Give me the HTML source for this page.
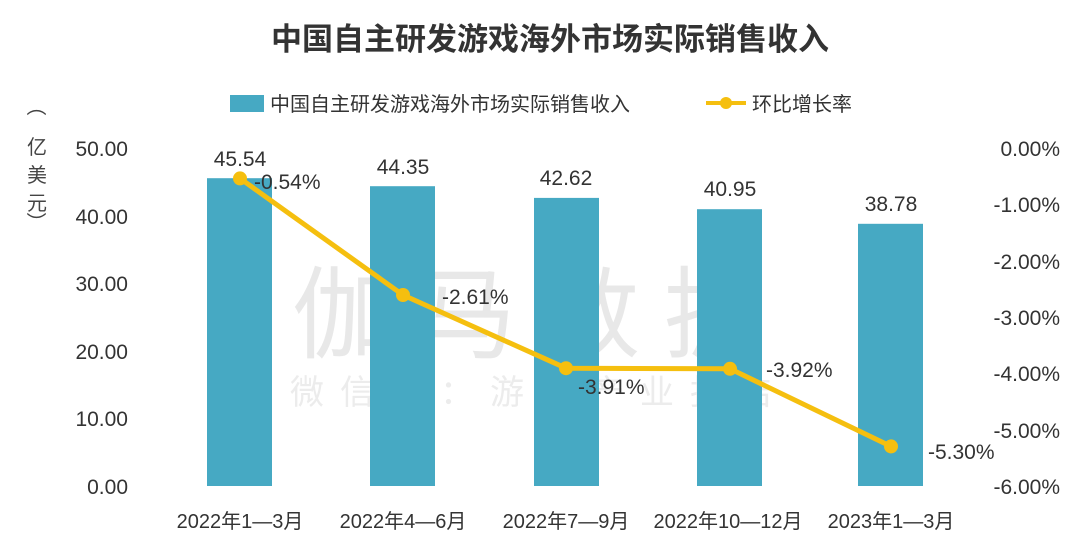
<!DOCTYPE html>
<html><head><meta charset="utf-8"><style>
body{margin:0;background:#fff;}
svg text{font-family:"Liberation Sans","Noto Sans CJK SC",sans-serif;}
</style></head><body>
<svg width="1080" height="552" viewBox="0 0 1080 552" xmlns="http://www.w3.org/2000/svg">
<rect width="1080" height="552" fill="#fff"/>
<text x="550" y="50" text-anchor="middle" font-size="31" font-weight="bold" fill="#333">中国自主研发游戏海外市场实际销售收入</text>
<!-- watermark -->
<text x="540" y="350" text-anchor="middle" font-size="100" fill="#e8e8e8" letter-spacing="24">伽马数据</text>
<text x="540" y="404" text-anchor="middle" font-size="34" fill="#ececec" letter-spacing="16">微信号：游戏产业报告</text>
<!-- legend -->
<rect x="230" y="95" width="34" height="17" fill="#46a9c3"/>
<text x="270" y="111" font-size="20" fill="#333">中国自主研发游戏海外市场实际销售收入</text>
<line x1="706" y1="103" x2="746" y2="103" stroke="#f5bf0f" stroke-width="4"/>
<circle cx="726" cy="103" r="6" fill="#f5bf0f"/>
<text x="752" y="111" font-size="20" fill="#333">环比增长率</text>
<!-- left unit -->
<g font-size="20" fill="#444" text-anchor="middle">
<text x="35" y="112" transform="rotate(90 35 106)">（</text>
<text x="37" y="154">亿</text>
<text x="37" y="182">美</text>
<text x="37" y="210">元</text>
<text x="35" y="228" transform="rotate(90 35 222)">）</text>
</g>
<!-- left ticks -->
<g font-size="21" fill="#333" text-anchor="end">
<text x="128" y="156">50.00</text>
<text x="128" y="224">40.00</text>
<text x="128" y="291">30.00</text>
<text x="128" y="359">20.00</text>
<text x="128" y="426">10.00</text>
<text x="128" y="494">0.00</text>
</g>
<g font-size="21" fill="#333" text-anchor="end">
<text x="1060" y="156">0.00%</text>
<text x="1060" y="212">-1.00%</text>
<text x="1060" y="269">-2.00%</text>
<text x="1060" y="325">-3.00%</text>
<text x="1060" y="381">-4.00%</text>
<text x="1060" y="438">-5.00%</text>
<text x="1060" y="494">-6.00%</text>
</g>
<!-- bars -->
<g fill="#46a9c3">
<rect x="207" y="178.2" width="65" height="307.8"/>
<rect x="370" y="186.2" width="65" height="299.8"/>
<rect x="534" y="197.9" width="65" height="288.1"/>
<rect x="697" y="209.2" width="65" height="276.8"/>
<rect x="858" y="223.8" width="65" height="262.2"/>
</g>
<g font-size="21" fill="#333" text-anchor="middle">
<text x="240" y="166">45.54</text>
<text x="403" y="174">44.35</text>
<text x="566" y="185">42.62</text>
<text x="730" y="196">40.95</text>
<text x="891" y="211">38.78</text>
</g>
<!-- line -->
<polyline points="240,178.4 403,295 566,368.2 730,368.8 891,446.4" fill="none" stroke="#f5bf0f" stroke-width="5" stroke-linejoin="round"/>
<g fill="#f5bf0f">
<circle cx="240" cy="178.4" r="7"/><circle cx="403" cy="295" r="7"/><circle cx="566" cy="368.2" r="7"/><circle cx="730" cy="368.8" r="7"/><circle cx="891" cy="446.4" r="7"/>
</g>
<g font-size="21" fill="#333">
<text x="254" y="189">-0.54%</text>
<text x="442" y="304">-2.61%</text>
<text x="578" y="394">-3.91%</text>
<text x="766" y="377">-3.92%</text>
<text x="928" y="459">-5.30%</text>
</g>
<!-- x labels -->
<g font-size="20" fill="#333" text-anchor="middle">
<text x="240" y="528">2022年1—3月</text>
<text x="403" y="528">2022年4—6月</text>
<text x="566" y="528">2022年7—9月</text>
<text x="728" y="528">2022年10—12月</text>
<text x="891" y="528">2023年1—3月</text>
</g>
</svg>
</body></html>
